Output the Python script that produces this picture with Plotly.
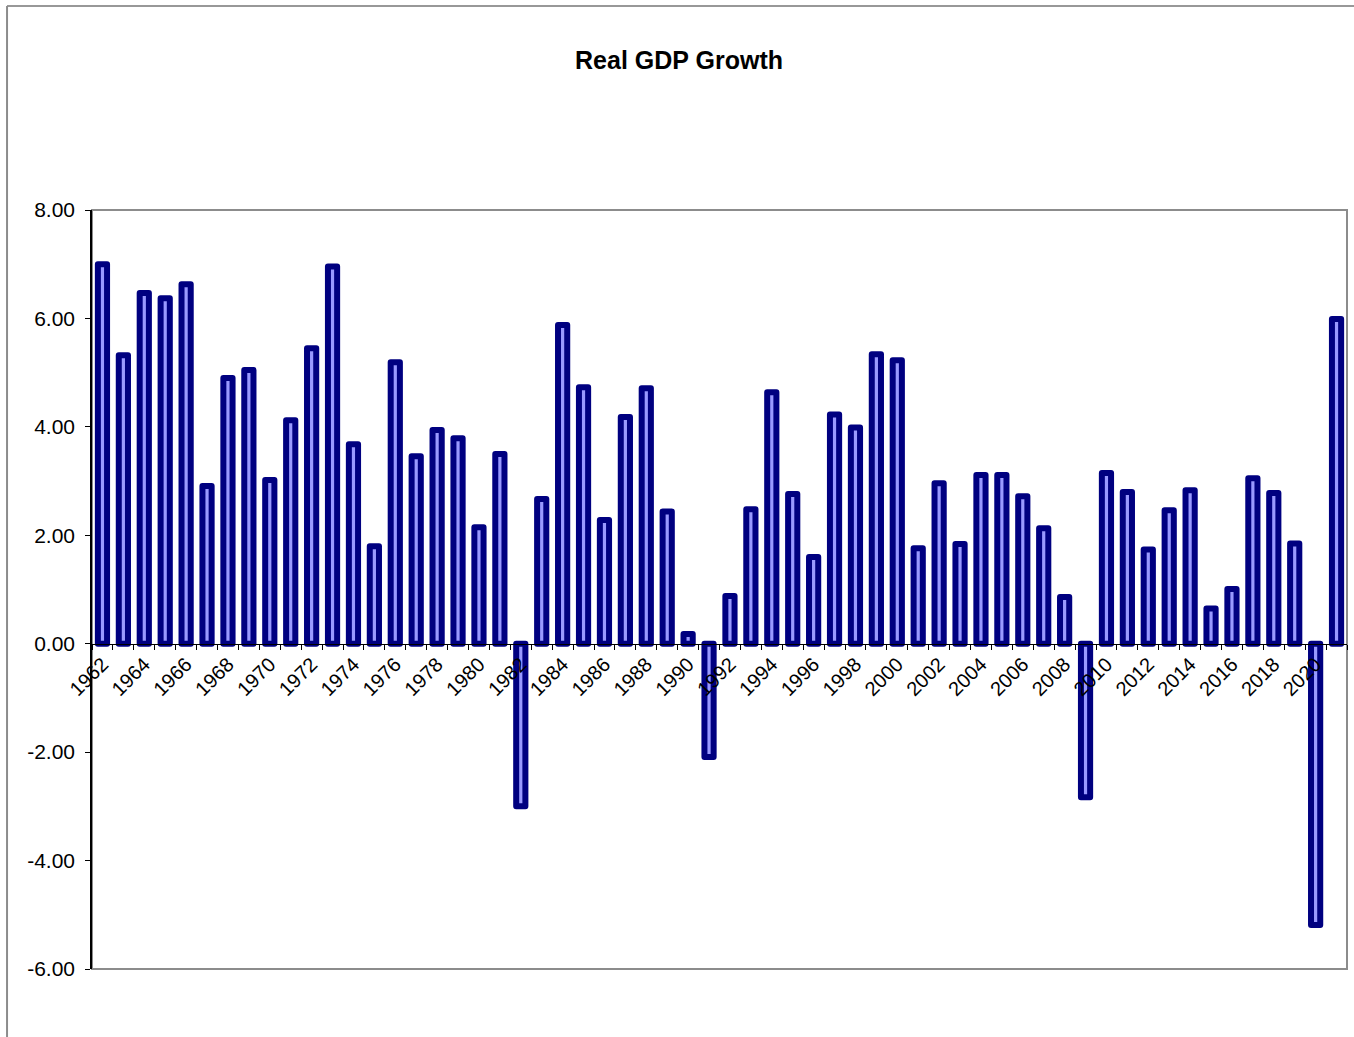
import plotly.graph_objects as go

years = list(range(1962, 2022))
growth = [
    7.00, 5.32, 6.47, 6.37, 6.63, 2.91, 4.90, 5.05, 3.02, 4.12,
    5.45, 6.96, 3.68, 1.80, 5.19, 3.46, 3.94, 3.79, 2.15, 3.50,
    -3.00, 2.67, 5.88, 4.73, 2.28, 4.18, 4.71, 2.44, 0.18, -2.09,
    0.88, 2.48, 4.64, 2.76, 1.60, 4.23, 3.99, 5.34, 5.23, 1.76,
    2.96, 1.84, 3.11, 3.11, 2.72, 2.13, 0.86, -2.83, 3.15, 2.80,
    1.74, 2.46, 2.83, 0.65, 1.01, 3.05, 2.78, 1.85, -5.19, 5.99,
]
label_years = list(range(1962, 2022, 2))
y_ticks = [-6, -4, -2, 0, 2, 4, 6, 8]
y_tick_text = ["%.2f" % v for v in y_ticks]

FONT = "Liberation Sans, Arial, sans-serif"

fig = go.Figure()
fig.add_trace(go.Bar(
    x=years, y=growth, width=0.44,
    marker=dict(color="#9999FF", line=dict(color="#000080", width=6)),
    hoverinfo="x+y",
))

# plot-area border (gray)
fig.add_shape(type="rect", xref="paper", yref="paper", x0=0, x1=1, y0=0, y1=1,
              line=dict(color="#8c8c8c", width=2), layer="below")
# outer chart frame
fig.add_shape(type="line", xref="paper", yref="paper", x0=-0.0677, x1=1.05,
              y0=1.2688, y1=1.2688, line=dict(color="#333333", width=1.2))
fig.add_shape(type="line", xref="paper", yref="paper", x0=-0.0677, x1=-0.0677,
              y0=1.2688, y1=-0.2, line=dict(color="#8c8c8c", width=2))

fig.update_layout(
    width=1354, height=1037,
    margin=dict(l=92, r=7, t=210, b=68),
    paper_bgcolor="white", plot_bgcolor="white",
    showlegend=False,
    title=dict(text="<b>Real GDP Growth</b>", x=0.5015, xref="container",
               y=1 - 60 / 1037, yref="container", xanchor="center", yanchor="middle",
               font=dict(family=FONT, size=25, color="black")),
    font=dict(family=FONT, color="black"),
    xaxis=dict(
        range=[1961.5, 2021.5], anchor="free", position=6 / 14,
        tickmode="array", tickvals=label_years, ticktext=[str(v) for v in label_years],
        tickangle=-45, ticks="", showgrid=False, zeroline=False,
        showline=True, linecolor="black", linewidth=1,
        tickfont=dict(family=FONT, size=20, color="black"),
        minor=dict(tickmode="array", tickvals=[y - 0.5 for y in years] + [2021.5],
                   ticks="outside", ticklen=5, tickcolor="black", tickwidth=1, showgrid=False),
        fixedrange=True,
    ),
    yaxis=dict(
        range=[-6, 8], tickmode="array", tickvals=y_ticks, ticktext=y_tick_text,
        ticks="outside", ticklen=5, tickcolor="black",
        showline=True, linecolor="black", linewidth=1.5,
        showgrid=False, zeroline=False,
        tickfont=dict(family=FONT, size=21, color="black"),
        ticklabelstandoff=6,
        fixedrange=True,
    ),
)

post = """
var s=document.createElement('style');
s.innerHTML='.trace.bars path{stroke-linejoin:round;}';
document.head.appendChild(s);
"""
fig.write_html("out.html", post_script=post)
